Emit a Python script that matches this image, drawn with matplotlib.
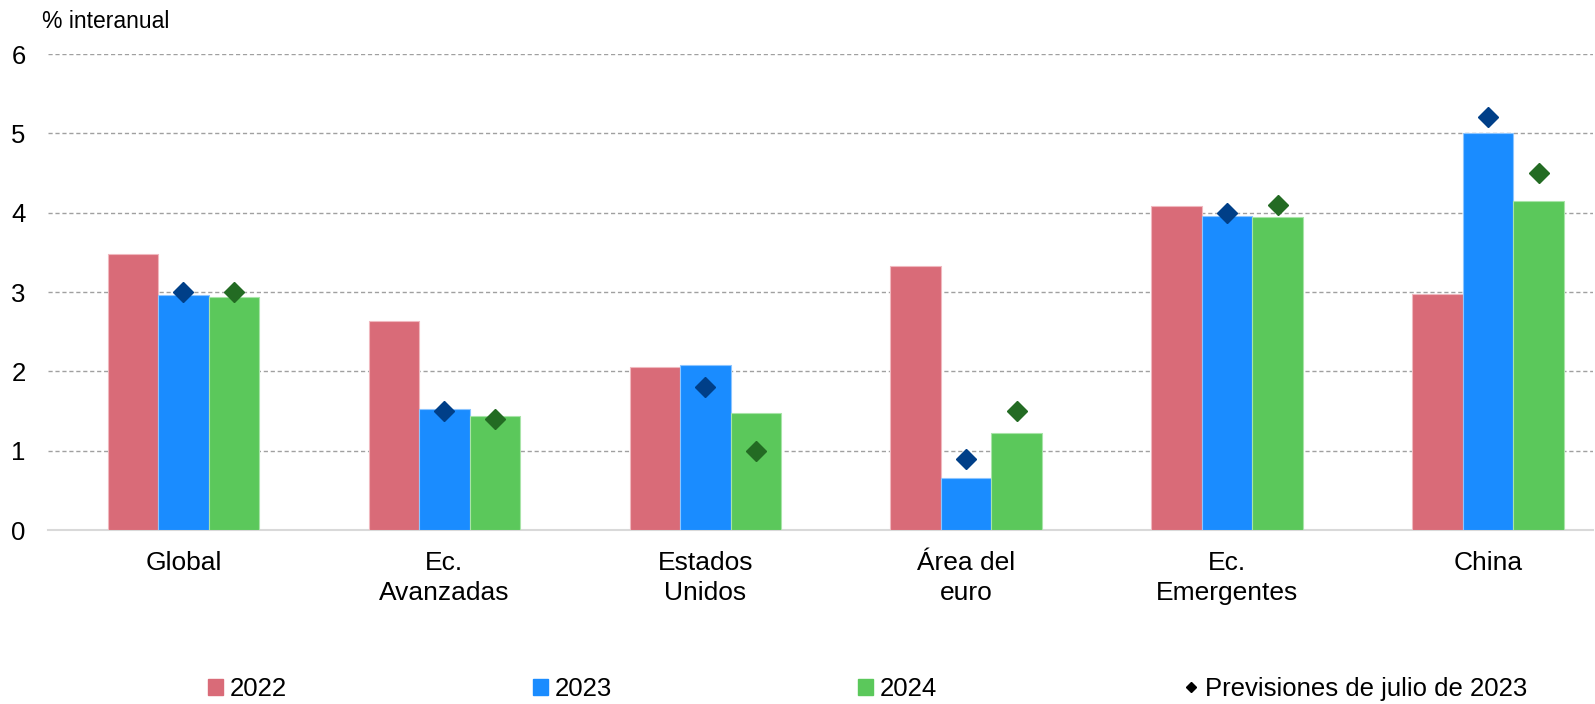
import numpy as np
import matplotlib
matplotlib.use('Agg')
import matplotlib.pyplot as plt
from matplotlib.patches import Patch
from matplotlib.lines import Line2D

plt.rcParams['font.family'] = ['Liberation Sans', 'DejaVu Sans']

# datos (% interanual)
regiones = ['Global', 'Ec.\nAvanzadas', 'Estados\nUnidos', 'Área del\neuro', 'Ec.\nEmergentes', 'China']
v2022 = [3.48, 2.63, 2.06, 3.33, 4.08, 2.98]
v2023 = [2.96, 1.52, 2.08, 0.66, 3.96, 5.00]
v2024 = [2.94, 1.44, 1.47, 1.22, 3.95, 4.15]
prev_2023 = [3.0, 1.5, 1.8, 0.9, 4.0, 5.2]
prev_2024 = [3.0, 1.4, 1.0, 1.5, 4.1, 4.5]

c22, c23, c24 = '#d96b78', '#1a8cff', '#5bc85b'
cp23, cp24 = '#003f88', '#236b23'

fig = plt.figure(figsize=(15.95, 7.04), dpi=100)
ax = fig.add_axes([48/1595, 174/704, (1593-48)/1595, (530-54)/704])

x = np.arange(len(regiones))
w = 0.1936
ax.bar(x - w, v2022, w, color=c22, edgecolor='#f0b8bf', linewidth=0.8, zorder=3)
ax.bar(x, v2023, w, color=c23, edgecolor='#8cc5ff', linewidth=0.8, zorder=3)
ax.bar(x + w, v2024, w, color=c24, edgecolor='#a8e4a8', linewidth=0.8, zorder=3)
ax.plot(x, prev_2023, ls='none', marker='D', ms=10, color=cp23, zorder=4)
ax.plot(x + w, prev_2024, ls='none', marker='D', ms=10, color=cp24, zorder=4)

ax.set_ylim(0, 6)
ax.set_xlim(-0.519, 5.402)
ax.set_yticks(range(0, 7))
ax.set_xticks(x)
ax.set_xticklabels(regiones, fontsize=19, linespacing=1.3)
ax.tick_params(axis='y', length=0, pad=16, labelsize=18.5)
ax.tick_params(axis='x', length=0, pad=15)
for yy in range(1, 7):
    ax.axhline(yy, color='#a0a0a0', lw=1, ls=(0, (3, 2)), zorder=1)

for s in ['top', 'right', 'left']:
    ax.spines[s].set_visible(False)
ax.spines['bottom'].set_color('#d9d9d9')
ax.spines['bottom'].set_linewidth(1.5)

fig.text(42/1595, 1 - 28/704, '% interanual', fontsize=16.5, va='baseline', ha='left')

handles = [Patch(color=c22), Patch(color=c23), Patch(color=c24),
           Line2D([], [], ls='none', marker='D', ms=5.5, color='black')]
labels = ['2022', '2023', '2024', 'Previsiones de julio de 2023']
fig.legend(handles, labels, loc='center left', bbox_to_anchor=(208/1595, 1 - 689/704),
           ncol=4, frameon=False, fontsize=18.5, handlelength=0.6, handleheight=0.6,
           handletextpad=0.25, columnspacing=9.57, borderpad=0, borderaxespad=0)

fig.savefig('out.png', dpi=100)
